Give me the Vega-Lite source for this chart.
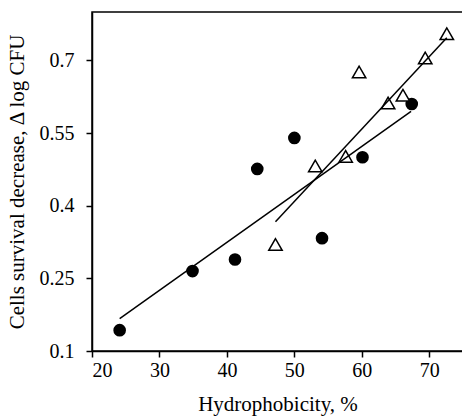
{
  "$schema": "https://vega.github.io/schema/vega-lite/v6.json",
  "autosize": {"type": "none"},
  "padding": {"left": 92, "top": 12, "right": 0, "bottom": 68},
  "width": 371,
  "height": 339,
  "config": {
    "font": "Liberation Serif",
    "view": {"stroke": "black", "strokeWidth": 1.5},
    "axis": {
      "grid": false,
      "domainColor": "black",
      "domainWidth": 1.5,
      "tickColor": "black",
      "tickWidth": 1.5,
      "tickSize": 6,
      "labelColor": "black",
      "titleColor": "black",
      "labelFont": "Liberation Serif",
      "titleFont": "Liberation Serif",
      "labelFontSize": 20,
      "titleFontSize": 21,
      "titleFontWeight": "normal"
    }
  },
  "layer": [
    {
      "data": {"values": [
        {"h": 24.1, "d": 0.143},
        {"h": 34.9, "d": 0.265},
        {"h": 41.2, "d": 0.289},
        {"h": 44.5, "d": 0.476},
        {"h": 50.0, "d": 0.540},
        {"h": 54.1, "d": 0.333},
        {"h": 60.1, "d": 0.500},
        {"h": 67.4, "d": 0.610}
      ]},
      "mark": {"type": "point", "shape": "circle", "filled": true, "color": "black", "size": 160, "opacity": 1},
      "encoding": {
        "x": {"field": "h", "type": "quantitative", "scale": {"domain": [20, 75], "nice": false},
          "axis": {"values": [20, 30, 40, 50, 60, 70], "title": "Hydrophobicity, %", "labelPadding": 3, "titlePadding": 13}},
        "y": {"field": "d", "type": "quantitative", "scale": {"domain": [0.1, 0.8], "nice": false, "zero": false},
          "axis": {"values": [0.1, 0.25, 0.4, 0.55, 0.7], "format": ".2~f", "title": "Cells survival decrease, Δ log CFU", "labelPadding": 12, "titlePadding": 12}}
      }
    },
    {
      "data": {"values": [
        {"h": 47.2, "d": 0.320},
        {"h": 53.1, "d": 0.482},
        {"h": 57.6, "d": 0.502},
        {"h": 59.6, "d": 0.676},
        {"h": 63.9, "d": 0.612},
        {"h": 66.1, "d": 0.628},
        {"h": 69.4, "d": 0.705},
        {"h": 72.6, "d": 0.755}
      ]},
      "mark": {"type": "point", "shape": "triangle-up", "filled": false, "stroke": "black", "fill": "white", "strokeWidth": 1.5, "size": 180, "opacity": 1},
      "encoding": {
        "x": {"field": "h", "type": "quantitative"},
        "y": {"field": "d", "type": "quantitative"}
      }
    },
    {
      "data": {"values": [
        {"g": "circles", "h": 24.1, "d": 0.167},
        {"g": "circles", "h": 67.3, "d": 0.595},
        {"g": "triangles", "h": 47.2, "d": 0.367},
        {"g": "triangles", "h": 72.6, "d": 0.747}
      ]},
      "mark": {"type": "line", "color": "black", "strokeWidth": 1.5},
      "encoding": {
        "x": {"field": "h", "type": "quantitative"},
        "y": {"field": "d", "type": "quantitative"},
        "detail": {"field": "g"}
      }
    }
  ]
}
